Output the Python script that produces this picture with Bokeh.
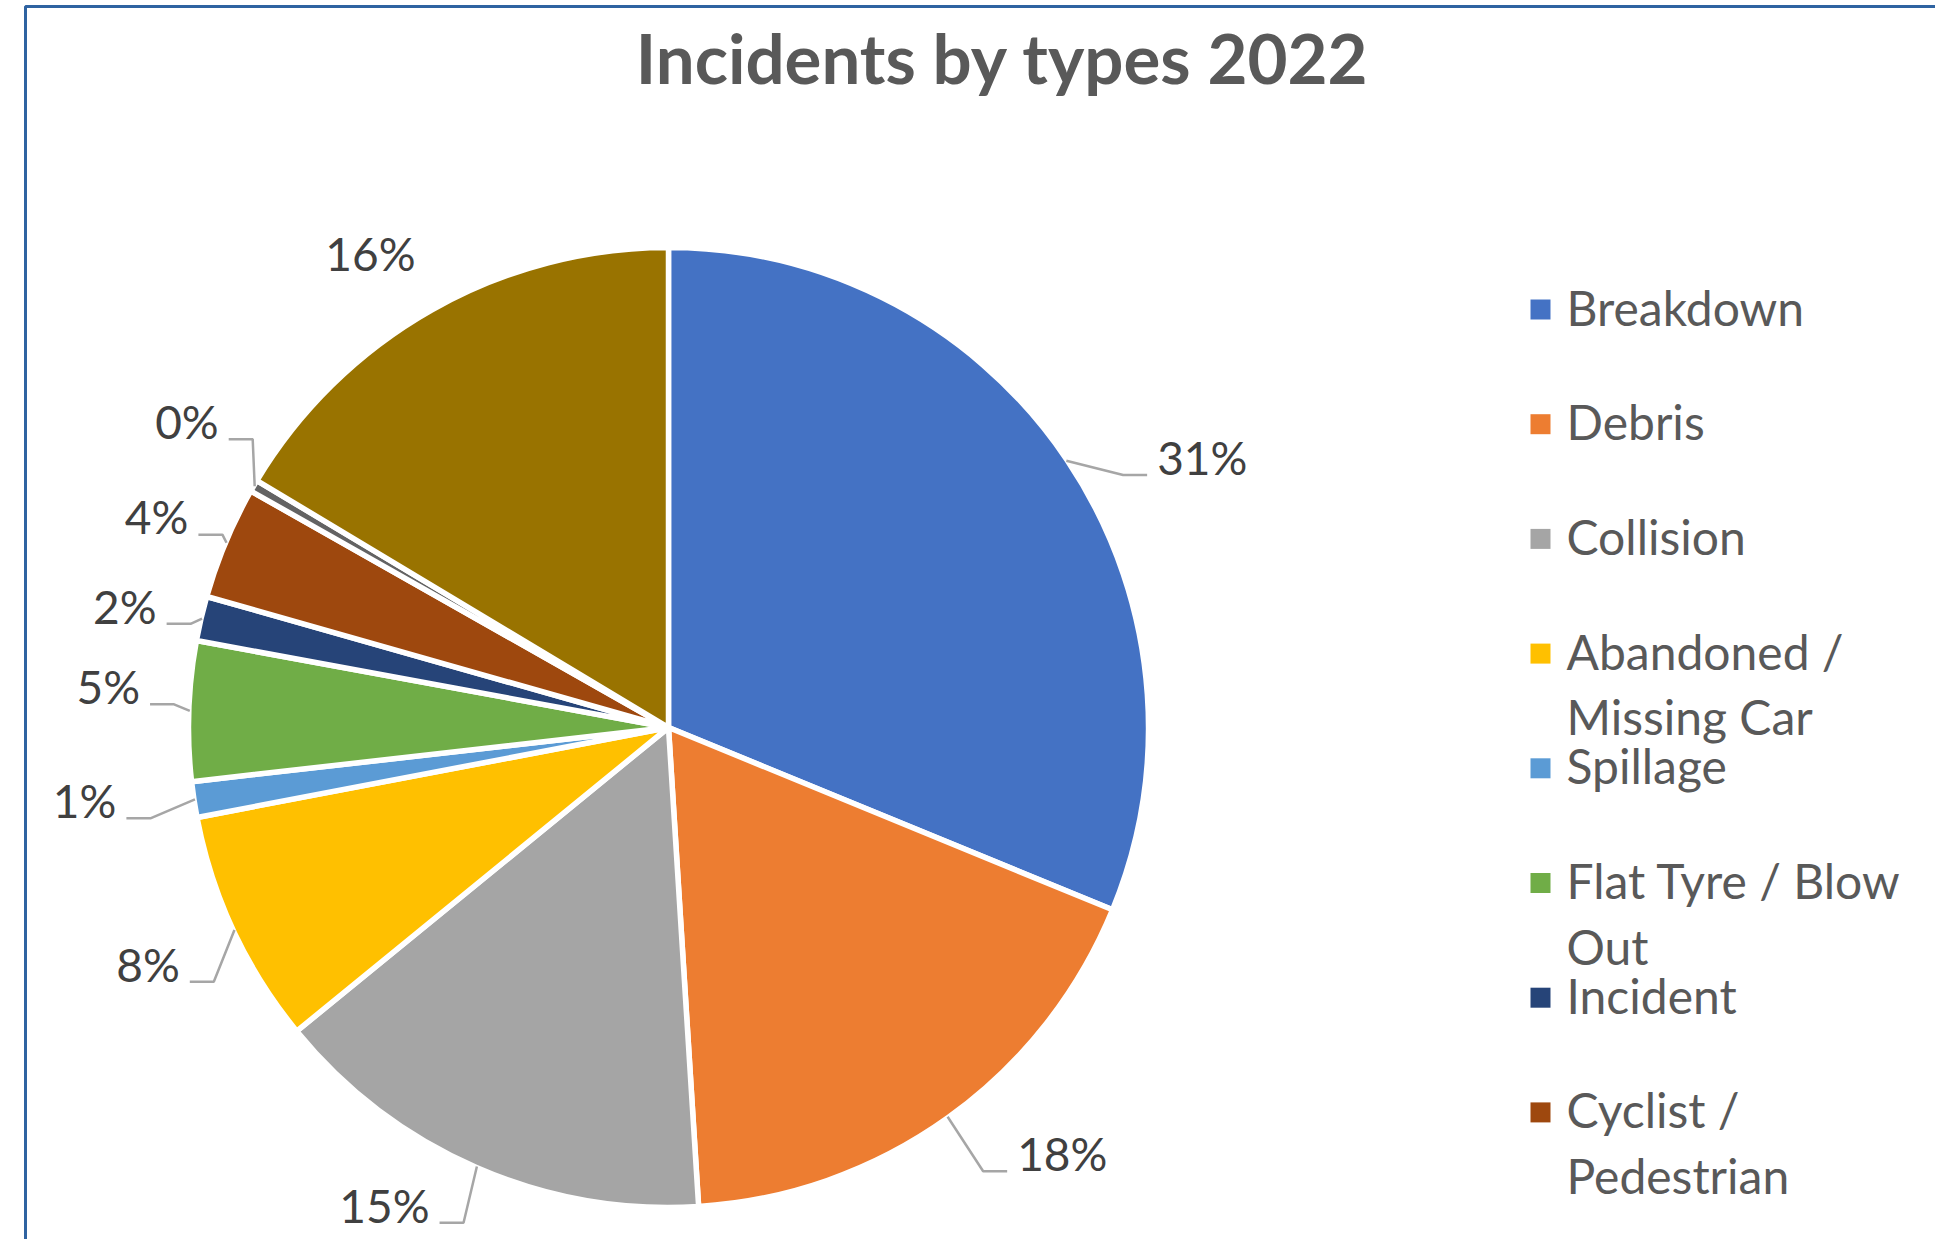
import math
import textwrap
from bokeh.plotting import figure
from bokeh.models import Range1d, ColumnDataSource
from bokeh.core.properties import value
from bokeh.embed import file_html
from bokeh.resources import INLINE

# ---------------- data ----------------
categories = ["Breakdown", "Debris", "Collision", "Abandoned / Missing Car", "Spillage",
              "Flat Tyre / Blow Out", "Incident", "Cyclist / Pedestrian", "Vehicle Fire", "Other"]
shares = [31.2, 17.8, 15.1, 7.9, 1.2, 4.7, 1.5, 3.8, 0.4, 16.4]
colors = ["#4472C4", "#ED7D31", "#A5A5A5", "#FFC000", "#5B9BD5",
          "#70AD47", "#264478", "#9E480E", "#636363", "#997300"]
legend_count = 8  # the legend box only shows the first eight entries
title = "Incidents by types 2022"

# ---------------- layout ----------------
W, H = 1935, 1239
CX, CY = 668, 727          # pie centre (pixels, y down)
R = 479                    # pie radius
# label placement relative to each slice's mid angle: (angle shift in deg, elbow radius, leader?)
label_shift = [4.8, 0.3, -1.1, -4.2, -1.3, 0.7, -0.9, 0.7, 4.5, -2.7]
label_radius = [520, 544, 536, 521, 526, 495, 489, 486, 506, 559]
label_leader = [True, True, True, True, True, True, True, True, True, False]

FONT = "Lato"
BASE_FIX = 0.385   # renderer places the alphabetic baseline this many em too low


def Y(ypx):
    return H - ypx


def YB(ypx, fs):
    """baseline at pixel row ypx for a text of font size fs"""
    return H - (ypx - BASE_FIX * fs)


p = figure(width=W, height=H, output_backend="svg", toolbar_location=None,
           x_range=Range1d(0, W), y_range=Range1d(0, H), min_border=0,
           background_fill_color="white", border_fill_color="white")
p.outline_line_color = None
p.axis.visible = False
p.grid.visible = False

# chart-area border (top & left edges visible)
p.line(x=[25, 25, W + 10], y=[Y(H + 10), Y(6), Y(6)], line_color="#2F63A1", line_width=3)

# title
TFS = 69
p.text(x=[1002], y=[YB(84, TFS)], text=[title], text_font=value(FONT), text_font_style="bold",
       text_font_size=f"{TFS}px", text_color="#595959", text_align="center",
       text_baseline="alphabetic")

# ---------------- pie ----------------
total = sum(shares)
theta0, theta1, mids = [], [], []
cum = 0.0
for s in shares:
    a0 = cum / total * 2 * math.pi
    cum += s
    a1 = cum / total * 2 * math.pi
    theta0.append(a0)
    theta1.append(a1)
    mids.append((a0 + a1) / 2)

src = ColumnDataSource(dict(
    start=[math.pi / 2 - a for a in theta0],
    end=[math.pi / 2 - a for a in theta1],
    color=colors, name=categories,
))
p.wedge(x=CX, y=Y(CY), radius=R + 1, start_angle="start", end_angle="end",
        direction="clock", fill_color="color", line_color="white", line_width=5.5,
        source=src)

# ---------------- data labels ----------------
LFS = 46
lx_l, ly_l, lt_l, lx_r, ly_r, lt_r, lx_c, ly_c, lt_c = [], [], [], [], [], [], [], [], []
for i, s in enumerate(shares):
    pct = f"{round(s / total * 100)}%"
    m = mids[i]
    ex, ey = CX + R * math.sin(m), CY - R * math.cos(m)
    t = m + math.radians(label_shift[i])
    bx, by = CX + label_radius[i] * math.sin(t), CY - label_radius[i] * math.cos(t)
    if not label_leader[i]:
        lx_c.append(bx); ly_c.append(YB(by + 17, LFS)); lt_c.append(pct)
        continue
    side = 1 if bx > CX else -1
    hx = bx + side * 24
    p.line(x=[ex, bx, hx], y=[Y(ey), Y(by), Y(by)], line_color="#A6A6A6", line_width=2.5)
    if side > 0:
        lx_r.append(bx + 34); ly_r.append(YB(by, LFS)); lt_r.append(pct)
    else:
        lx_l.append(bx - 34); ly_l.append(YB(by, LFS)); lt_l.append(pct)

lab_style = dict(text_font=value(FONT), text_font_size=f"{LFS}px", text_color="#404040",
                 text_baseline="alphabetic")
p.text(x=lx_r, y=ly_r, text=lt_r, text_align="left", **lab_style)
p.text(x=lx_l, y=ly_l, text=lt_l, text_align="right", **lab_style)
p.text(x=lx_c, y=ly_c, text=lt_c, text_align="center", **lab_style)

# ---------------- legend ----------------
GFS = 48
LEG_SQ_X, LEG_TX_X = 1540, 1566
LEG_BASE0, LEG_STEP, LEG_LINE = 325, 114.7, 65.5
sq_x, sq_y, sq_c, tx_x, tx_y, tx_t = [], [], [], [], [], []
for k in range(legend_count):
    base = LEG_BASE0 + k * LEG_STEP
    sq_x.append(LEG_SQ_X); sq_y.append(Y(base - 16)); sq_c.append(colors[k])
    for j, line in enumerate(textwrap.wrap(categories[k], width=16)):
        tx_x.append(LEG_TX_X); tx_y.append(YB(base + j * LEG_LINE, GFS)); tx_t.append(line)

p.scatter(x=sq_x, y=sq_y, marker="square", size=20, fill_color=sq_c, line_color=None)
p.text(x=tx_x, y=tx_y, text=tx_t, text_font=value(FONT), text_font_size=f"{GFS}px",
       text_color="#595959", text_align="left", text_baseline="alphabetic")

open("out.html", "w").write(file_html(p, INLINE))
